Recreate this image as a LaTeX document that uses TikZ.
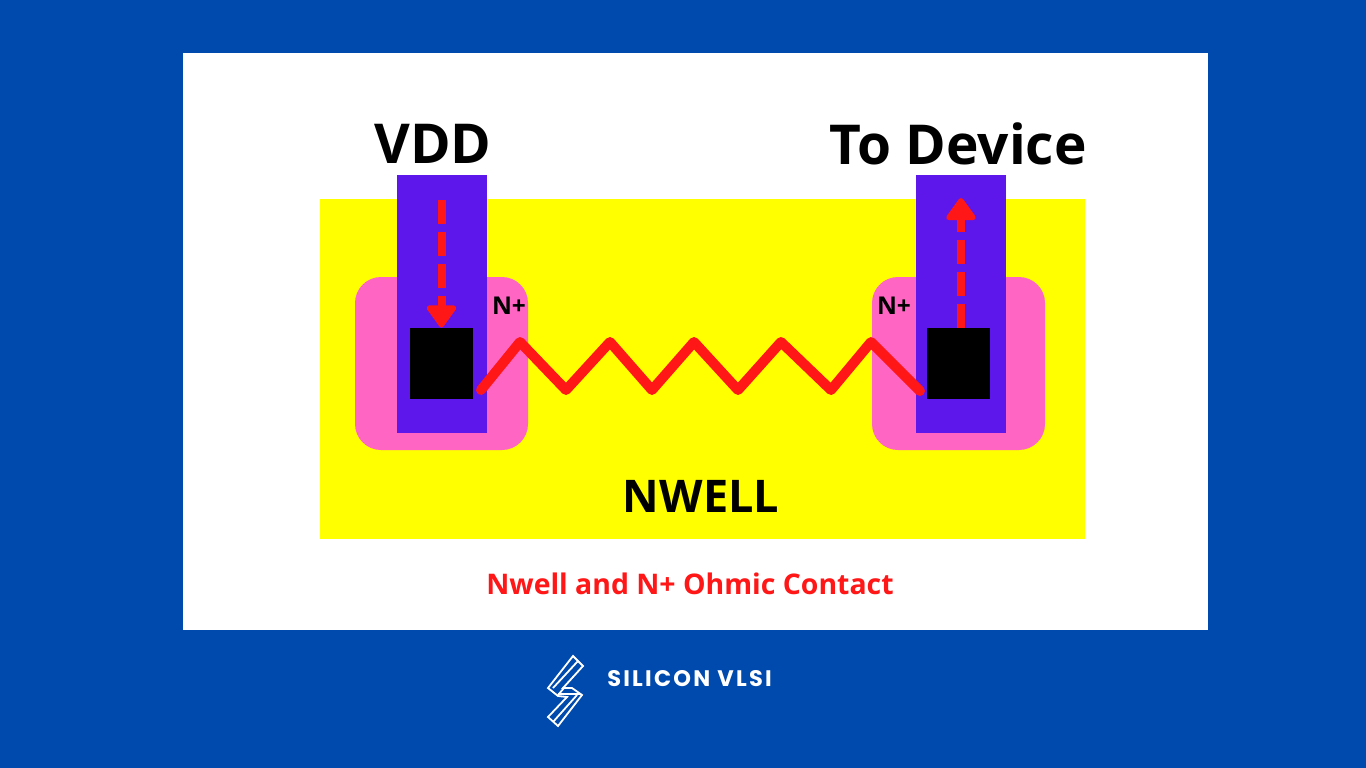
\documentclass[tikz,border=0pt]{standalone}
\usepackage{fontspec}
\setmainfont{Open Sans}
\newfontfamily\logofont[LetterSpace=10]{Poppins}
\usetikzlibrary{arrows.meta}
\definecolor{bgblue}{HTML}{004AAD}
\definecolor{metalpurple}{HTML}{5E17EB}
\definecolor{nplus}{HTML}{FF66C4}
\definecolor{ohmred}{HTML}{FF1616}
\definecolor{wellyellow}{HTML}{FFFF00}
\tikzset{
    metal/.style={fill=metalpurple},
    contact/.style={fill=black},
    well/.style={fill=nplus,rounded corners=26},
    flow/.style={draw=ohmred,line width=8,dash pattern=on 24 off 8,-{Triangle[length=24,width=33,line width=5pt 0 0,line join=round,fill=ohmred]}},
    lbl/.style={font=\bfseries,inner sep=0},
    logoline/.style={draw=white,line width=1.8,line join=miter}
}
\begin{document}
\begin{tikzpicture}[x=1pt,y=-1pt]
\useasboundingbox (0,0) rectangle (1366,768);
\fill[bgblue] (0,0) rectangle (1366,768);
\fill[white] (183,53) rectangle (1208,630);
\fill[wellyellow] (320,199) rectangle (1085,539);
% n+ regions
\fill[well] (355,277) rectangle (528,450);
\fill[well] (872,277) rectangle (1045,450);
% metal
\fill[metal] (397,175) rectangle (487,433);
\fill[metal] (916,175) rectangle (1006,433);
% contacts
\node[contact,minimum width=63,minimum height=71.5,inner sep=0] (contactl) at (441.5,363.5) {};
\node[contact,minimum width=63,minimum height=71.5,inner sep=0] (contactr) at (958.5,363.5) {};
\coordinate (vddtop) at (441.5,200);
\coordinate (devtop) at (961,198);
\draw[flow] (vddtop) -- (contactl.north);
\draw[flow] (961,327.5) -- (devtop);
% resistor
\draw[ohmred,line width=10,line cap=round,line join=round] (481,390) -- (520,342) -- (566,390) -- (610,342) -- (652,390) -- (694,342) -- (738,390) -- (781,342) -- (831,390) -- (871,342) -- (920,391);
\node[lbl,font=\bfseries\fontsize{55}{55}\selectfont] (vdd) at (433,144) {VDD};
\node[lbl,font=\bfseries\fontsize{55}{55}\selectfont] (todevice) at (958,144) {To Device};
\node[lbl,font=\bfseries\fontsize{24.5}{24.5}\selectfont] (nl) at (509,306) {N+};
\node[lbl,font=\bfseries\fontsize{24.5}{24.5}\selectfont] (nr) at (894,306) {N+};
\node[lbl,font=\bfseries\fontsize{45}{45}\selectfont] (nwell) at (701,496) {NWELL};
\node[lbl,text=ohmred,font=\bfseries\fontsize{28.4}{28.4}\selectfont] (title) at (690,584) {Nwell and N+ Ohmic Contact};
\node[lbl,text=white,font=\logofont\bfseries\fontsize{22.5}{22.5}\selectfont] (brand) at (689.5,679) {SILICON VLSI};
% logo
\draw[logoline] (573,656) -- (583,666) -- (563,688) -- (572,688) -- (582,695) -- (558,726) -- (548,717) -- (567,697) -- (558,696) -- (548,688) -- cycle;
\draw[logoline] (578,661) -- (553,688);
\draw[logoline] (558,695) -- (564,688);
\draw[logoline] (558,694) -- (581,694);
\draw[logoline] (577,695) -- (553,722);
\end{tikzpicture}
\end{document}
